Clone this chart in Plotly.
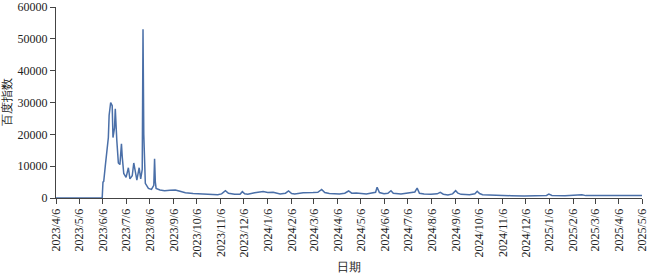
import plotly.graph_objects as go

dates = [
    "2023-04-06", "2023-06-05", "2023-06-06", "2023-06-07", "2023-06-09", "2023-06-11",
    "2023-06-13", "2023-06-14", "2023-06-16", "2023-06-18", "2023-06-19", "2023-06-21",
    "2023-06-22", "2023-06-24", "2023-06-26", "2023-06-28", "2023-06-30", "2023-07-01",
    "2023-07-03", "2023-07-06", "2023-07-09", "2023-07-11", "2023-07-14", "2023-07-16",
    "2023-07-20", "2023-07-23", "2023-07-25", "2023-07-27", "2023-07-28", "2023-07-29",
    "2023-07-30", "2023-07-31", "2023-08-04", "2023-08-08", "2023-08-11", "2023-08-12",
    "2023-08-13", "2023-08-14", "2023-08-19", "2023-08-25", "2023-09-01", "2023-09-08",
    "2023-09-14", "2023-09-21", "2023-10-01", "2023-10-12", "2023-10-23", "2023-11-02",
    "2023-11-07", "2023-11-12", "2023-11-16", "2023-11-24", "2023-12-01", "2023-12-04",
    "2023-12-07", "2023-12-11", "2023-12-20", "2023-12-31", "2024-01-06", "2024-01-13",
    "2024-01-22", "2024-01-29", "2024-02-02", "2024-02-06", "2024-02-10", "2024-02-21",
    "2024-03-05", "2024-03-11", "2024-03-16", "2024-03-20", "2024-03-26", "2024-04-08",
    "2024-04-15", "2024-04-20", "2024-04-24", "2024-04-30", "2024-05-13", "2024-05-20",
    "2024-05-25", "2024-05-27", "2024-05-30", "2024-06-05", "2024-06-10", "2024-06-14",
    "2024-06-17", "2024-06-27", "2024-07-10", "2024-07-15", "2024-07-18", "2024-07-21",
    "2024-07-27", "2024-08-05", "2024-08-13", "2024-08-17", "2024-08-21", "2024-08-27",
    "2024-09-02", "2024-09-06", "2024-09-09", "2024-09-13", "2024-09-24", "2024-10-01",
    "2024-10-04", "2024-10-07", "2024-10-11", "2024-10-26", "2024-11-17", "2024-12-04",
    "2024-12-24", "2025-01-02", "2025-01-05", "2025-01-09", "2025-01-26", "2025-02-12",
    "2025-02-17", "2025-02-22", "2025-03-12", "2025-03-25", "2025-04-07", "2025-04-17",
    "2025-05-06",
]
values = [
    0, 0, 5000, 5200, 10000, 14900,
    19000, 26000, 30000, 29000, 19000, 22000,
    28000, 18000, 11000, 10500, 17000, 13000,
    7700, 6500, 9500, 6000, 7000, 11000,
    5600, 9500, 6000, 9000, 53000, 20000,
    6000, 4600, 3000, 2700, 4000, 12300,
    5000, 3000, 2500, 2300, 2400, 2500,
    2100, 1650, 1400, 1250, 1200, 1000,
    1300, 2300, 1500, 1150, 1200, 2000,
    1300, 1150, 1650, 2000, 1700, 1800,
    1250, 1500, 2200, 1400, 1250, 1650,
    1700, 1800, 2700, 1700, 1450, 1250,
    1500, 2200, 1500, 1550, 1250, 1550,
    1800, 3400, 1700, 1350, 1500, 2300,
    1500, 1250, 1650, 1900, 3100, 1500,
    1250, 1150, 1300, 1750, 1200, 950,
    1300, 2300, 1500, 1150, 1030, 1300,
    2100, 1400, 1030, 840, 720, 650,
    680, 800, 1200, 800, 700, 750,
    1000, 750, 800, 850, 750, 820,
    750,
]

y_ticks = [0, 10000, 20000, 30000, 40000, 50000, 60000]
y_ticklabels = ["0", "10000", "20000", "30000", "40000", "50000", "60000"]

x_title = "日期"
y_title = "百度指数"

font_family = "Times New Roman, Liberation Serif, DejaVu Serif, serif"

fig = go.Figure(
    go.Scatter(
        x=dates,
        y=values,
        mode="lines",
        line=dict(color="#4a6fa8", width=1.5),
        hoverinfo="x+y",
    )
)

fig.update_layout(
    width=650,
    height=274,
    margin=dict(l=56, r=8, t=7, b=76),
    paper_bgcolor="white",
    plot_bgcolor="white",
    showlegend=False,
    font=dict(family=font_family, size=12, color="#222"),
)

fig.update_xaxes(
    type="date",
    range=["2023-04-06", "2025-05-06"],
    tick0="2023-04-06",
    dtick="M1",
    tickformat="%Y/%-m/%-d",
    tickangle=-90,
    ticks="outside",
    ticklen=5,
    tickcolor="#444",
    tickfont=dict(family=font_family, size=12),
    ticklabeloverflow="allow",
    showline=True,
    linecolor="#444",
    linewidth=1,
    showgrid=False,
    zeroline=False,
    automargin=False,
    title=dict(text=x_title, standoff=6, font=dict(family=font_family, size=12)),
)

fig.update_yaxes(
    range=[0, 60000.5],
    tickmode="array",
    tickvals=y_ticks,
    ticktext=y_ticklabels,
    ticks="outside",
    ticklen=5,
    tickcolor="#444",
    tickfont=dict(family=font_family, size=12),
    ticklabeloverflow="allow",
    showline=True,
    linecolor="#444",
    linewidth=1,
    showgrid=False,
    zeroline=False,
    automargin=False,
    title=dict(text=y_title, standoff=6, font=dict(family=font_family, size=12)),
)

fig.write_html("out.html")
